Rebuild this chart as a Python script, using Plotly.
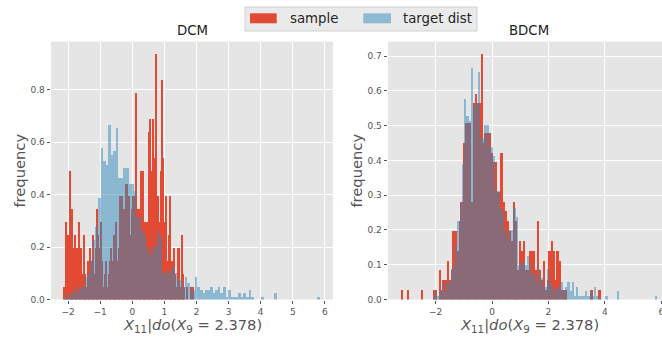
import numpy as np
import plotly.graph_objects as go

# ---- histogram data (100 equal-width bins per series) ----
N_BINS = 100
N_SAMPLE = 500      # generated samples per model
N_TARGET = 1000     # draws from the target distribution

TARGET_RANGE = (-2.10, 5.85)
DCM_RANGE = (-2.13, 1.93)
BDCM_RANGE = (-3.23, 3.85)

target_counts = [
    1, 2, 1, 2, 4, 2, 4, 4, 7, 8,
    12, 18, 22, 31, 46, 42, 41, 53, 44, 45,
    52, 37, 37, 40, 40, 35, 35, 33, 25, 25,
    21, 20, 16, 14, 16, 16, 21, 19, 8, 8,
    9, 8, 10, 8, 6, 6, 4, 7, 5, 3,
    3, 7, 4, 3, 2, 3, 3, 4, 2, 3,
    4, 2, 4, 1, 3, 1, 1, 1, 2, 1,
    2, 1, 3, 1, 0, 0, 0, 1, 0, 0,
    0, 0, 2, 0, 0, 0, 0, 0, 0, 0,
    0, 0, 0, 0, 0, 0, 0, 0, 0, 1,
]

dcm_counts = [
    1, 6, 3, 5, 10, 5, 7, 4, 5, 4,
    4, 6, 4, 4, 2, 5, 2, 1, 3, 3,
    4, 3, 5, 2, 4, 7, 5, 4, 6, 3,
    1, 2, 3, 1, 2, 3, 4, 3, 5, 2,
    6, 3, 4, 8, 8, 4, 7, 9, 9, 7,
    8, 5, 7, 8, 8, 16, 7, 7, 5, 10,
    10, 6, 6, 6, 6, 13, 14, 10, 14, 11,
    19, 6, 8, 6, 10, 17, 11, 6, 8, 3,
    5, 8, 2, 3, 4, 2, 1, 4, 4, 1,
    5, 2, 1, 0, 1, 0, 0, 1, 0, 1,
]

bdcm_counts = [
    1, 0, 0, 1, 0, 0, 0, 0, 0, 0,
    1, 0, 0, 0, 0, 0, 1, 1, 0, 3,
    1, 2, 2, 4, 2, 3, 7, 7, 5, 8,
    10, 16, 18, 18, 18, 10, 20, 21, 20, 20,
    25, 16, 17, 17, 17, 15, 14, 14, 11, 11,
    15, 10, 9, 8, 7, 6, 10, 8, 3, 6,
    5, 6, 3, 3, 5, 5, 5, 3, 8, 3,
    2, 4, 1, 2, 5, 6, 5, 2, 5, 4,
    1, 1, 1, 0, 0, 0, 0, 0, 0, 0,
    0, 0, 0, 0, 0, 1, 0, 0, 0, 1,
]

panel_titles = ["DCM", "BDCM"]
series_names = ["sample", "target dist"]
x_label = "<i>X</i><sub>11</sub>|<i>do</i>(<i>X</i><sub>9</sub> = 2.378)"
y_label = "frequency"

dcm_xticks = [-2, -1, 0, 1, 2, 3, 4, 5, 6]
bdcm_xticks = [-2, 0, 2, 4, 6]
dcm_yticks = [0.0, 0.2, 0.4, 0.6, 0.8]
bdcm_yticks = [0.0, 0.1, 0.2, 0.3, 0.4, 0.5, 0.6, 0.7]

# ---- styling ----
RED = "#E24A33"
BLUE = "rgba(52,138,189,0.5)"
BG = "#E5E5E5"
TICK_GREY = "#555555"
FONT = "DejaVu Sans"
W, H = 662, 337


def histogram(counts, rng, n):
    counts = np.asarray(counts, dtype=float)
    edges = np.linspace(rng[0], rng[1], N_BINS + 1)
    width = edges[1] - edges[0]
    centers = 0.5 * (edges[:-1] + edges[1:])
    return centers, counts / (n * width), width


def fx(p):
    return p / W


def fy(p):
    return 1 - p / H


def fmt_tick(v, decimals):
    s = f"{abs(v):.{decimals}f}"
    return ("\u2212" + s) if v < 0 else s


fig = go.Figure()

panels = [
    dict(xa="x", ya="y", counts=dcm_counts, rng=DCM_RANGE),
    dict(xa="x2", ya="y2", counts=bdcm_counts, rng=BDCM_RANGE),
]
data_extent = []
for p in panels:
    c, d, w = histogram(p["counts"], p["rng"], N_SAMPLE)
    fig.add_trace(go.Bar(x=c, y=d, width=w, xaxis=p["xa"], yaxis=p["ya"],
                         marker=dict(color=RED, line=dict(width=0)),
                         name=series_names[0], showlegend=False))
    tc, td, tw = histogram(target_counts, TARGET_RANGE, N_TARGET)
    fig.add_trace(go.Bar(x=tc, y=td, width=tw, xaxis=p["xa"], yaxis=p["ya"],
                         marker=dict(color=BLUE, line=dict(width=0)),
                         name=series_names[1], showlegend=False))
    lo = min(p["rng"][0], TARGET_RANGE[0])
    hi = max(p["rng"][1], TARGET_RANGE[1])
    ymax = max(d.max(), td.max())
    data_extent.append((lo, hi, ymax))

# axes geometry (pixels)
PLOT_TOP, PLOT_BOTTOM = 41.6, 299.5
AX_W = 281.8
LEFT_X0, RIGHT_X0 = 51.1, 388.1


def x_range(lo, hi):
    pad = 0.05 * (hi - lo)
    return lo - pad, hi + pad


l_lo, l_hi = x_range(data_extent[0][0], data_extent[0][1])
r_lo, r_hi = x_range(data_extent[1][0], data_extent[1][1])
# the right-hand axes run past the page edge; show the visible part
r_vis = r_lo + (r_hi - r_lo) * (W - RIGHT_X0) / AX_W

common = dict(showgrid=True, gridcolor="white", gridwidth=1, zeroline=False,
              showline=False, ticks="outside", ticklen=3.5, tickwidth=0.8,
              tickcolor=TICK_GREY, tickfont=dict(family=FONT, size=9, color=TICK_GREY),
              ticklabeloverflow="allow", automargin=False, fixedrange=True)

fig.update_layout(
    width=W, height=H,
    margin=dict(l=0, r=0, t=0, b=0),
    paper_bgcolor="white", plot_bgcolor=BG,
    barmode="overlay", bargap=0,
    template="none",
    font=dict(family=FONT),
    xaxis=dict(domain=[fx(LEFT_X0), fx(LEFT_X0 + AX_W)], range=[l_lo, l_hi], anchor="y",
               tickvals=dcm_xticks, ticktext=[fmt_tick(v, 0) for v in dcm_xticks], **common),
    yaxis=dict(domain=[fy(PLOT_BOTTOM), fy(PLOT_TOP)], range=[0, 1.05 * data_extent[0][2]],
               anchor="x", tickvals=dcm_yticks, ticktext=[fmt_tick(v, 1) for v in dcm_yticks],
               **common),
    xaxis2=dict(domain=[fx(RIGHT_X0), 1.0], range=[r_lo, r_vis], anchor="y2",
                tickvals=bdcm_xticks, ticktext=[fmt_tick(v, 0) for v in bdcm_xticks], **common),
    yaxis2=dict(domain=[fy(PLOT_BOTTOM), fy(PLOT_TOP)], range=[0, 1.05 * data_extent[1][2]],
                anchor="x2", tickvals=bdcm_yticks,
                ticktext=[fmt_tick(v, 1) for v in bdcm_yticks], **common),
)

annotations = []
for cx, title in zip([LEFT_X0 + AX_W / 2, RIGHT_X0 + AX_W / 2], panel_titles):
    annotations.append(dict(text=title, x=fx(cx), y=fy(30.5), xref="paper", yref="paper",
                            xanchor="center", yanchor="middle", showarrow=False,
                            font=dict(family=FONT, size=13.3, color="#222222")))
    annotations.append(dict(text=x_label, x=fx(cx), y=fy(325.5), xref="paper", yref="paper",
                            xanchor="center", yanchor="middle", showarrow=False,
                            font=dict(family=FONT, size=14.7, color=TICK_GREY)))
for lx in [20, 357]:
    annotations.append(dict(text=y_label, x=fx(lx), y=fy((PLOT_TOP + PLOT_BOTTOM) / 2),
                            xref="paper", yref="paper", textangle=-90,
                            xanchor="center", yanchor="middle", showarrow=False,
                            font=dict(family=FONT, size=14.7, color=TICK_GREY)))

# legend box with the two series patches
shapes = [
    dict(type="rect", xref="paper", yref="paper", x0=fx(245), x1=fx(477), y0=fy(31), y1=fy(7),
         fillcolor="#EAEAEA", line=dict(color="#D0D0D0", width=1), layer="above"),
    dict(type="rect", xref="paper", yref="paper", x0=fx(250), x1=fx(276.7), y0=fy(23.3),
         y1=fy(13.3), fillcolor=RED, line=dict(width=0), layer="above"),
    dict(type="rect", xref="paper", yref="paper", x0=fx(363.3), x1=fx(391), y0=fy(23.3),
         y1=fy(13.3), fillcolor=BLUE, line=dict(width=0), layer="above"),
]
for lx, name in zip([288, 401], series_names):
    annotations.append(dict(text=name, x=fx(lx), y=fy(18.5), xref="paper", yref="paper",
                            xanchor="left", yanchor="middle", showarrow=False,
                            font=dict(family=FONT, size=13.3, color="#262626")))

fig.update_layout(annotations=annotations, shapes=shapes)
fig.write_html("out.html")
